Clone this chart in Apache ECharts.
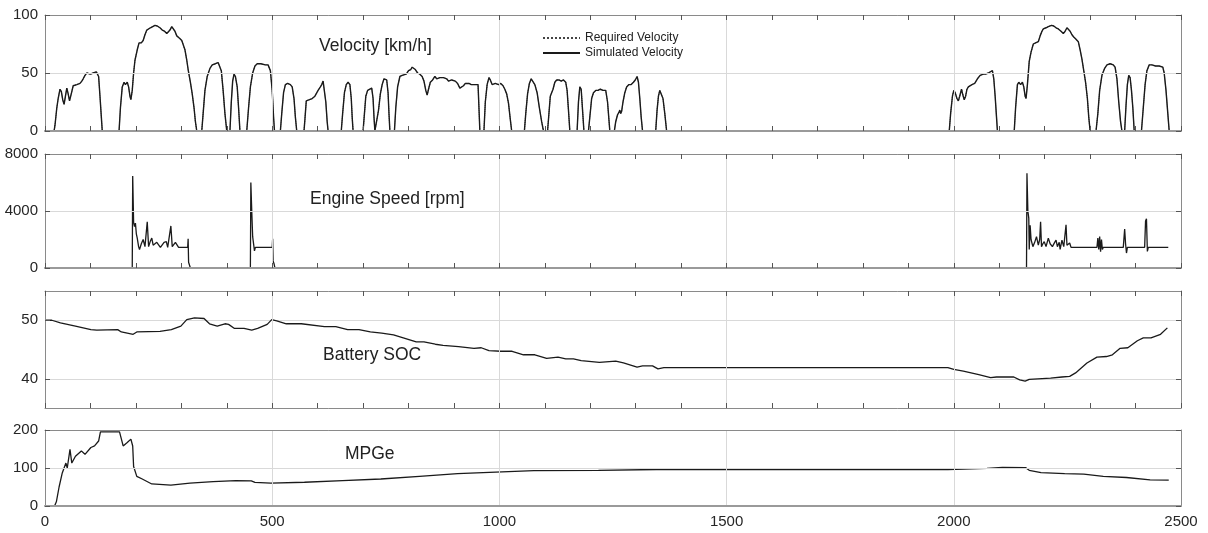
<!DOCTYPE html>
<html>
<head>
<meta charset="utf-8">
<script src="https://cdn.jsdelivr.net/npm/echarts@6/dist/echarts.min.js"></script>
<style>
html,body{margin:0;padding:0;background:#fff;}
#chart{width:1208px;height:533px;}
</style>
</head>
<body>
<div id="chart"></div>
<script>
// ---- data (time [s], value) ----
const xTicks = [0, 500, 1000, 1500, 2000, 2500];
const panelTitles = ['Velocity [km/h]', 'Engine Speed [rpm]', 'Battery SOC', 'MPGe'];
const legendNames = ['Required Velocity', 'Simulated Velocity'];

const velocityData = [
[0,0],[20,0],[22,5],[26,20],[29,28],[33,36],[36,34],[39,27],[42,23],[45,30],[48,37],[51,32],[54,26],[56,25],[59,34],[62,39],[70,40],[77,41],[81,43],[84,45],[88,48],[92,50],[100,49],[106,50],[110,49],[113,51],[116,52],[118,47],[121,30],[124,12],[126,0],
[163,0],[166,20],[170,38],[174,42],[177,40],[181,42],[184,38],[187,30],[189,27],[192,35],[195,50],[198,61],[203,70],[207,76],[212,76],[216,78],[220,83],[224,87],[227,88.5],[232,89],[236,90],[242,91],[247,90.5],[253,89],[258,87],[263,86],[268,84],[271,84],[275,87],[279,90],[282,90.5],[286,86],[290,82],[296,80],[301,78],[304,77],[308,70],[312,61],[315,53],[320,42],[324,32],[328,20],[331,8],[334,0],
[345,0],[348,15],[352,35],[357,47],[363,54],[368,57],[375,58],[381,59],[385,58],[388,52],[392,35],[396,15],[400,0],
[407,0],[410,25],[413,43],[416,49],[419,47],[423,38],[426,20],[429,0],
[444,0],[448,20],[452,38],[457,50],[462,56],[467,58],[475,58],[485,57],[491,57],[496,52],[500,35],[503,12],[505,0],
[518,0],[521,15],[525,33],[529,40],[534,41],[540,40],[544,38],[548,28],[551,12],[554,0],
[570,0],[572,10],[575,26],[582,27],[588,28],[594,30],[601,35],[606,38],[609,40],[612,43],[615,42],[618,25],[621,8],[623,0],
[652,0],[655,15],[659,33],[663,40],[667,42],[671,40],[674,28],[676,12],[678,0],
[700,0],[703,15],[706,30],[710,35],[714,36],[719,37],[722,28],[724,12],[726,0],
[730,0],[734,18],[738,32],[742,40],[746,45],[749,46],[752,44],[755,33],[757,15],[759,0],
[769,0],[772,20],[776,38],[781,47],[786,48],[790,47],[795,49],[800,52],[805,53],[808,55],[811,54],[815,53],[820,50],[825,49],[830,47],[834,43],[838,35],[841,31],[844,36],[848,42],[853,44],[858,47],[862,45],[866,44],[869,46],[873,47],[877,46],[880,47],[884,45],[888,43],[891,42],[895,44],[898,45],[903,43],[908,41],[913,37],[917,36],[921,39],[925,41],[928,42],[933,41],[938,40],[942,41],[946,40],[950,41],[953,40],[955,20],[957,0],
[966,0],[969,25],[973,40],[977,46],[980,44],[984,40],[987,39],[991,41],[995,42],[998,40],[1003,41],[1008,39],[1012,36],[1016,32],[1020,24],[1024,10],[1027,0],
[1055,0],[1058,15],[1062,32],[1066,41],[1070,45],[1074,44],[1078,40],[1083,33],[1088,20],[1093,8],[1097,0],
[1106,0],[1109,15],[1112,30],[1115,33],[1118,36],[1122,42],[1126,44],[1131,44],[1136,43],[1141,44],[1146,42],[1149,35],[1152,18],[1155,0],
[1171,0],[1174,25],[1177,38],[1180,36],[1183,18],[1186,0],
[1196,0],[1199,12],[1203,28],[1207,33],[1212,35],[1217,35],[1222,36],[1228,35],[1234,35],[1238,25],[1241,10],[1243,0],
[1253,0],[1256,8],[1260,14],[1263,16],[1265,18],[1267,15],[1269,17],[1272,25],[1276,33],[1280,38],[1285,40],[1290,40],[1295,42],[1299,44],[1303,47],[1306,42],[1309,28],[1312,12],[1315,0],
[1344,0],[1347,18],[1350,30],[1353,35],[1357,34],[1360,28],[1364,15],[1368,0],
[1990,0],[1993,15],[1997,30],[2000,35],[2003,33],[2007,28],[2010,26],[2013,30],[2017,36],[2020,31],[2023,27],[2026,30],[2029,36],[2032,38],[2040,40],[2046,41],[2052,45],[2058,48],[2065,49],[2070,49],[2076,50],[2080,49],[2085,52],[2088,45],[2091,30],[2094,12],[2096,0],
[2133,0],[2136,20],[2140,40],[2143,42],[2147,40],[2151,42],[2154,38],[2157,30],[2159,28],[2162,40],[2166,60],[2170,68],[2175,75],[2180,76],[2186,77],[2190,82],[2194,86],[2197,88],[2203,89],[2208,90],[2215,91],[2220,90.5],[2225,89],[2230,88],[2236,86],[2241,84],[2245,86],[2249,89],[2252,90],[2256,86],[2260,83],[2264,81],[2269,79],[2274,77],[2278,70],[2282,62],[2286,52],[2290,42],[2294,28],[2297,12],[2300,0],
[2313,0],[2317,15],[2321,35],[2326,48],[2332,54],[2337,57],[2344,58],[2351,57],[2355,55],[2359,45],[2363,25],[2367,8],[2370,0],
[2376,0],[2379,22],[2382,40],[2385,48],[2388,46],[2391,35],[2394,20],[2397,0],
[2413,0],[2417,20],[2421,40],[2425,52],[2430,57],[2436,57],[2444,56],[2452,56],[2460,55],[2463,50],[2467,35],[2471,15],[2474,0]
];
const requiredVelocityData = velocityData;

const engineSpeedData = [
[0,0],[192,0],[193,6450],[195,3200],[197,2900],[199,3150],[201,2400],[203,2100],[206,1500],[208,1300],[212,1700],[216,2000],[220,1500],[225,3250],[228,1500],[232,1900],[235,2100],[238,1600],[242,1500],[246,1800],[250,1850],[254,1450],[258,1400],[262,1800],[267,1850],[270,1450],[274,1500],[277,2950],[280,1500],[282,1450],[287,1800],[291,1850],[294,1450],[297,1400],[300,1450],[314,1450],[315,2050],[316,400],[318,300],[320,0],
[452,0],[453,6000],[455,4000],[457,2200],[459,2100],[461,1200],[463,1450],[500,1450],[501,2050],[502,500],[504,300],[506,0],
[2160,0],[2161,6650],[2163,4000],[2165,3500],[2166,1300],[2168,3000],[2170,2000],[2174,1500],[2178,1800],[2182,2200],[2186,1600],[2189,2000],[2191,3250],[2193,1500],[2196,1700],[2199,1850],[2203,1500],[2208,2100],[2212,1700],[2217,1500],[2220,1500],[2222,1800],[2225,1950],[2228,1500],[2232,1800],[2234,1300],[2238,1950],[2242,1500],[2245,1500],[2247,3030],[2249,1600],[2251,1500],[2255,1750],[2258,1450],[2264,1450],[2315,1450],[2317,2100],[2319,1300],[2321,2200],[2323,1150],[2325,2000],[2327,1300],[2329,1450],[2373,1450],[2376,2730],[2378,1700],[2380,1050],[2382,1450],[2420,1450],[2422,3300],[2424,3450],[2426,1165],[2428,1450],[2472,1450]
];

const batterySocData = [
[0,50],[15,50],[34,49.55],[67,49.0],[101,48.4],[114,48.3],[160,48.4],[168,48.0],[194,47.6],[202,48.0],[253,48.1],[278,48.4],[299,49.0],[312,50.1],[329,50.4],[350,50.3],[362,49.4],[379,49.0],[396,49.4],[404,49.3],[417,48.6],[438,48.6],[455,48.3],[468,48.6],[489,49.3],[499,50.1],[510,49.9],[531,49.4],[564,49.4],[615,48.9],[640,48.9],[666,48.4],[691,48.4],[716,48.0],[741,47.8],[767,47.5],[792,46.9],[817,46.3],[834,46.3],[859,45.9],[876,45.7],[910,45.5],[944,45.2],[960,45.3],[977,44.8],[1003,44.7],[1028,44.7],[1053,44.1],[1078,44.1],[1104,43.5],[1129,43.7],[1146,43.4],[1163,43.4],[1180,43.1],[1220,42.8],[1256,43.0],[1273,42.7],[1303,42.0],[1315,42.2],[1337,42.2],[1349,41.7],[1362,41.9],[1987,41.9],[2000,41.6],[2021,41.3],[2055,40.7],[2081,40.2],[2094,40.3],[2132,40.3],[2145,39.8],[2157,39.6],[2160,39.4],[2166,39.9],[2213,40.1],[2238,40.3],[2255,40.4],[2268,41.0],[2293,42.7],[2315,43.7],[2336,43.8],[2349,44.1],[2366,45.2],[2383,45.3],[2404,46.5],[2417,47.0],[2434,47.0],[2455,47.6],[2470,48.7]
];

const mpgeData = [
[0,0],[21,0],[25,11],[31,50],[38,87],[46,113],[49,100],[55,149],[59,113],[67,131],[80,145],[88,136],[101,154],[109,158],[118,171],[122,195],[164,195],[172,158],[181,167],[189,176],[193,158],[195,104],[202,78],[214,71],[235,58],[277,55],[319,60],[370,64],[420,67],[454,66],[462,62],[497,60],[571,62.5],[655,67],[739,71],[824,78],[908,85],[992,89],[1076,93],[1218,94],[1346,96],[1987,96],[2073,99],[2107,101.5],[2158,101],[2166,94],[2192,88],[2244,85],[2286,84],[2329,78],[2380,75],[2432,69],[2473,68]
];

// ---- layout ----
const FONT = 'Liberation Sans, Arial, Helvetica, sans-serif';
const GRIDC = '#d9d9d9';
const BORDER = '#8a8a8a';
const TICKC = '#555';
const LINEC = '#1a1a1a';
const plain = v => String(v);
const panels = [
  {top:15, height:116, min:0, max:100, interval:50},
  {top:154, height:114, min:0, max:8000, interval:4000},
  {top:291, height:117, min:35, max:55, interval:5, custom:[40,50]},
  {top:430, height:76, min:0, max:200, interval:100}
];
const grid = panels.map(p => ({left:45, width:1136, top:p.top, height:p.height, show:false,
  containLabel:false, outerBoundsMode:'none'}));

const axisLine = {show:true, onZero:false, lineStyle:{color:BORDER, width:1}};
const bottomLine = {show:true, onZero:false, lineStyle:{color:'#9a9a9a', width:2.2}};
const xAxis = [];
panels.forEach((p, i) => {
  const last = i === 3;
  xAxis.push({type:'value', gridIndex:i, position:'bottom', min:0, max:2500, interval:500, z:10,
    axisLine: i === 2 ? axisLine : bottomLine,
    axisTick:{show:!last, inside:true, length:5, lineStyle:{color:TICKC}},
    minorTick:{show:!last, splitNumber:5, length:5, lineStyle:{color:TICKC}},
    axisLabel:{show:last, color:'#262626', fontSize:15, fontFamily:FONT, margin:8,
      customValues: xTicks, formatter:plain},
    splitLine:{show:true, lineStyle:{color:GRIDC, width:1}}});
});
for (let i = 0; i < 4; i++) {
  xAxis.push({type:'value', gridIndex:i, position:'top', min:0, max:2500, interval:500, z:10,
    axisLine:axisLine,
    axisTick:{show:i < 3, inside:true, length:5, lineStyle:{color:TICKC}},
    minorTick:{show:i < 3, splitNumber:5, length:5, lineStyle:{color:TICKC}},
    axisLabel:{show:false}, splitLine:{show:false}});
}

const yAxis = [];
panels.forEach((p, i) => {
  const y = {type:'value', gridIndex:i, position:'left', min:p.min, max:p.max, interval:p.interval, z:10,
    axisLine:axisLine,
    axisTick:{show:true, inside:true, length:5, lineStyle:{color:TICKC}},
    axisLabel:{show:true, color:'#262626', fontSize:15, fontFamily:FONT, margin:7, formatter:plain},
    splitLine:{show:!p.custom, lineStyle:{color:GRIDC, width:1}}};
  if (p.custom) {
    y.axisTick.customValues = p.custom;
    y.axisLabel.customValues = p.custom;
    y.axisLabel.formatter = v => (p.custom.indexOf(v) >= 0 ? String(v) : '');
  }
  yAxis.push(y);
});
panels.forEach((p, i) => {
  const y = {type:'value', gridIndex:i, position:'right', min:p.min, max:p.max, interval:p.interval, z:10,
    axisLine:axisLine,
    axisTick:{show:true, inside:true, length:5, lineStyle:{color:TICKC}},
    axisLabel:{show:false}, splitLine:{show:false}};
  if (p.custom) y.axisTick.customValues = p.custom;
  yAxis.push(y);
});

const series = [
  {name:legendNames[0], type:'line', xAxisIndex:0, yAxisIndex:0, data:requiredVelocityData,
   symbol:'none', itemStyle:{color:'#444'}, lineStyle:{color:'#444', width:1, type:'dotted'}, z:2},
  {name:legendNames[1], type:'line', xAxisIndex:0, yAxisIndex:0, data:velocityData,
   symbol:'none', itemStyle:{color:LINEC}, lineStyle:{color:LINEC, width:1.4}, z:3},
  {name:'Engine Speed', type:'line', xAxisIndex:1, yAxisIndex:1, data:engineSpeedData,
   symbol:'none', itemStyle:{color:LINEC}, lineStyle:{color:LINEC, width:1.3}, z:3},
  {name:'Battery SOC', type:'line', xAxisIndex:2, yAxisIndex:2, data:batterySocData,
   symbol:'none', itemStyle:{color:LINEC}, lineStyle:{color:LINEC, width:1.3}, z:3,
   markLine:{silent:true, symbol:['none','none'], label:{show:false}, animation:false, z:1,
     lineStyle:{color:GRIDC, type:'solid', width:1}, emphasis:{disabled:true},
     data:[{yAxis:40},{yAxis:50}]}},
  {name:'MPGe', type:'line', xAxisIndex:3, yAxisIndex:3, data:mpgeData,
   symbol:'none', itemStyle:{color:LINEC}, lineStyle:{color:LINEC, width:1.3}, z:3}
];

const titlePos = [[319,46],[310,199],[323,355],[345,454]];
const graphic = panelTitles.map((t, i) => ({type:'text', x:titlePos[i][0], y:titlePos[i][1], silent:true,
  style:{text:t, fontSize:17.5, fontFamily:FONT, fill:'#222', align:'left', verticalAlign:'middle'}}));

const option = {
  animation:false,
  backgroundColor:'#fff',
  textStyle:{fontFamily:FONT},
  grid, xAxis, yAxis, series, graphic,
  legend:{data:legendNames, orient:'vertical', left:542, top:32, itemWidth:37, itemHeight:10, itemGap:3,
    padding:0, itemStyle:{opacity:0}, textStyle:{fontSize:12, color:'#222', fontFamily:FONT}, selectedMode:false}
};

const chart = echarts.init(document.getElementById('chart'), null, {renderer:'canvas'});
chart.setOption(option);
</script>
</body>
</html>
